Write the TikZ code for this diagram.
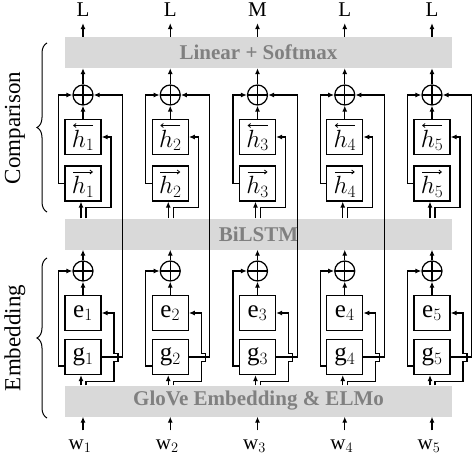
\documentclass[tikz,border=0pt]{standalone}
\usepackage{fontspec}
\setmainfont{Liberation Serif}
\usetikzlibrary{arrows.meta,decorations.pathreplacing}

\tikzset{
  band/.style={fill=gray!30, text=gray, font=\fontsize{21}{24}\selectfont\bfseries, minimum height=31pt, minimum width=387pt, inner sep=0pt},
  cell/.style={draw, line width=1.2pt, minimum width=36pt, minimum height=35pt, inner sep=0pt, font=\fontsize{25}{28}\selectfont},
  plus/.style={draw, circle, line width=1.2pt, minimum size=20pt, inner sep=0pt,
    path picture={\draw[line width=1.2pt] (path picture bounding box.north) -- (path picture bounding box.south) (path picture bounding box.west) -- (path picture bounding box.east);}},
  lbl/.style={font=\fontsize{21}{24}\selectfont, inner sep=0pt},
  side/.style={font=\fontsize{23}{26}\selectfont, inner sep=0pt, rotate=90},
  arr/.style={-{Latex[length=6pt,width=5pt]}, line width=1.2pt},
  vec/.style={-{Straight Barb[length=2.5pt,width=4pt]}, line width=0.8pt},
  brc/.style={decorate, decoration={brace, amplitude=10pt}, line width=1pt}
}
\newcommand{\hcell}[1]{\raisebox{-10pt}[0pt][0pt]{$h_{#1}$}}

\begin{document}
\begin{tikzpicture}[x=1pt,y=-1pt]
\useasboundingbox (0,0) rectangle (472,460);
\node[band] (linear) at (258.5,52.5) {Linear + Softmax};
\node[band] (bilstm) at (258.5,234) {BiLSTM};
\node[band] (glove) at (258.5,401) {GloVe Embedding \& ELMo};

\foreach \i/\t in {1/L,2/L,3/M,4/L,5/L} {
  \pgfmathsetmacro\x{83+87.25*(\i-1)}
  \node[lbl] (out\i) at (\x,10) {\t};
  \node[plus] (ct\i) at (\x,95) {};
  \node[cell] (hb\i) at (\x,137) {\hcell{\i}};
  \node[cell] (hf\i) at (\x,183.5) {\hcell{\i}};
  \draw[vec] ([shift={(10,-11.5)}]hb\i.center) -- ([shift={(-10,-11.5)}]hb\i.center);
  \draw[vec] ([shift={(-10,-11.5)}]hf\i.center) -- ([shift={(10,-11.5)}]hf\i.center);
  \node[plus] (cb\i) at (\x,271) {};
  \node[cell] (e\i) at (\x,313) {e$_{\i}$};
  \node[cell] (g\i) at (\x,357) {g$_{\i}$};
  \node[lbl] (w\i) at (\x-3,446) {w$_{\i}$};
  % comparison part
  \draw[arr] (linear.north -| out\i) -- (out\i.south) [shorten >=6pt];
  \draw[arr] (ct\i.north) -- (ct\i.north |- linear.south);
  \draw[arr] (hb\i.north) -- (ct\i.south);
  \draw[arr] (hf\i.west) -- ++(-6,0) |- (ct\i.west);
  \draw[arr] ([xshift=-2pt]hf\i.south |- bilstm.north) -- ([xshift=-2pt]hf\i.south);
  \draw[arr] ([xshift=3pt]hf\i.south |- bilstm.north) -- ++(0,-11) -- ++(25,0) |- (hb\i.east);
  \draw[arr] (g\i.east) -- ++(21,0) |- (ct\i.east);
  % embedding part
  \draw[arr] (cb\i.north) -- (cb\i.north |- bilstm.south);
  \draw[arr] (e\i.north) -- (cb\i.south);
  \draw[arr] ([yshift=-9pt]g\i.west) -- ++(-6,0) |- (cb\i.west);
  \draw[arr] ([xshift=-2pt]g\i.south |- glove.north) -- ([xshift=-2pt]g\i.south);
  \draw[arr] ([xshift=3pt]g\i.south |- glove.north) -- ++(0,-4) -- ++(28,0) -- ++(0,-20) -- ++(4,0) -- ++(0,-8) -- ++(-4,0) |- (e\i.east);
  \draw[arr, shorten <=9pt] (w\i.north -| g\i) -- (g\i |- glove.south);
}

\draw[brc] (47,212) -- (47,43);
\draw[brc] (47,418) -- (47,258);
\node[side] (cmp) at (15,128) {Comparison};
\node[side] (emb) at (15,338) {Embedding};
\end{tikzpicture}
\end{document}
